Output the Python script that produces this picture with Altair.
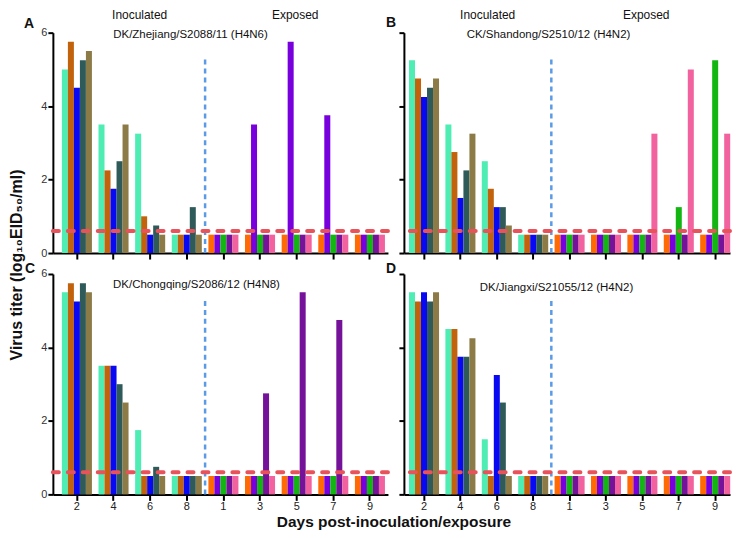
import altair as alt
import pandas as pd

# ---------------- data ----------------
days = ["2", "4", "6", "8", "1", "3", "5", "7", "9"]
inoculated_days = ["2", "4", "6", "8"]
exposed_days = ["1", "3", "5", "7", "9"]
inoculated_colors = ["#4DEDB3", "#C2620C", "#0808F2", "#2E5A5A", "#8C7B46"]
exposed_colors = ["#FF6A05", "#7800DC", "#12B512", "#74129A", "#F2629E"]

detection_limit = [0.6]
divider_top = [5.3]

a_inoculated = [[5.0, 5.75, 4.5, 5.25, 5.5],
                [3.5, 2.25, 1.75, 2.5, 3.5],
                [3.25, 1.0, 0.5, 0.75, 0.5],
                [0.5, 0.5, 0.5, 1.25, 0.5]]
a_exposed = [[0.5, 0.5, 0.5, 0.5, 0.5],
             [0.5, 3.5, 0.5, 0.5, 0.5],
             [0.5, 5.75, 0.5, 0.5, 0.5],
             [0.5, 3.75, 0.5, 0.5, 0.5],
             [0.5, 0.5, 0.5, 0.5, 0.5]]

b_inoculated = [[5.25, 4.75, 4.25, 4.5, 4.75],
                [3.5, 2.75, 1.5, 2.25, 3.25],
                [2.5, 1.75, 1.25, 1.25, 0.75],
                [0.5, 0.5, 0.5, 0.5, 0.5]]
b_exposed = [[0.5, 0.5, 0.5, 0.5, 0.5],
             [0.5, 0.5, 0.5, 0.5, 0.5],
             [0.5, 0.5, 0.5, 0.5, 3.25],
             [0.5, 0.5, 1.25, 0.5, 5.0],
             [0.5, 0.5, 5.25, 0.5, 3.25]]

c_inoculated = [[5.5, 5.75, 5.25, 5.75, 5.5],
                [3.5, 3.5, 3.5, 3.0, 2.5],
                [1.75, 0.5, 0.5, 0.75, 0.5],
                [0.5, 0.5, 0.5, 0.5, 0.5]]
c_exposed = [[0.5, 0.5, 0.5, 0.5, 0.5],
             [0.5, 0.5, 0.5, 2.75, 0.5],
             [0.5, 0.5, 0.5, 5.5, 0.5],
             [0.5, 0.5, 0.5, 4.75, 0.5],
             [0.5, 0.5, 0.5, 0.5, 0.5]]

d_inoculated = [[5.5, 5.25, 5.5, 5.25, 5.5],
                [4.5, 4.5, 3.75, 3.75, 4.25],
                [1.5, 0.5, 3.25, 2.5, 0.5],
                [0.5, 0.5, 0.5, 0.5, 0.5]]
d_exposed = [[0.5, 0.5, 0.5, 0.5, 0.5],
             [0.5, 0.5, 0.5, 0.5, 0.5],
             [0.5, 0.5, 0.5, 0.5, 0.5],
             [0.5, 0.5, 0.5, 0.5, 0.5],
             [0.5, 0.5, 0.5, 0.5, 0.5]]

subtitles = ["DK/Zhejiang/S2088/11 (H4N6)", "CK/Shandong/S2510/12 (H4N2)",
             "DK/Chongqing/S2086/12 (H4N8)", "DK/Jiangxi/S21055/12  (H4N2)"]
letters = ["A", "B", "C", "D"]
group_labels = ["Inoculated", "Exposed"]
x_title = "Days post-inoculation/exposure"
y_title = "Virus titer (log\u2081\u2080EID\u2085\u2080/ml)"

FONT = "Liberation Sans"


def make_df(inoc, expo):
    rows = []
    for d, vals in zip(inoculated_days, inoc):
        for i, v in enumerate(vals):
            rows.append({"day": d, "bird": i, "titer": v, "color": inoculated_colors[i]})
    for d, vals in zip(exposed_days, expo):
        for i, v in enumerate(vals):
            rows.append({"day": d, "bird": i, "titer": v, "color": exposed_colors[i]})
    return pd.DataFrame(rows)


def text_layer(txt, x, y, size=11.5, weight="normal", angle=0):
    return alt.Chart(pd.DataFrame({"t": [txt]})).mark_text(
        font=FONT, fontSize=size, fontWeight=weight, color="#111",
        baseline="middle", align="center", angle=angle
    ).encode(text="t:N", x=alt.value(x), y=alt.value(y))


def panel(df, width, pad_outer, align, show_x_labels, show_y_labels, x_label_pad, texts):
    xscale = alt.Scale(domain=days, paddingInner=0.18, paddingOuter=pad_outer, align=align)
    xaxis = alt.Axis(title=None, labels=show_x_labels, labelAngle=0, grid=False,
                     domainColor="black", domainWidth=2, tickColor="black", tickWidth=2,
                     tickSize=6, labelPadding=x_label_pad, labelFont=FONT, labelFontSize=11,
                     labelColor="#222")
    yaxis = alt.Axis(title=None, values=[0, 2, 4, 6], labels=show_y_labels, grid=False,
                     domainColor="black", domainWidth=2, tickColor="black", tickWidth=2,
                     tickSize=5, labelPadding=1, labelFont=FONT, labelFontSize=11,
                     labelColor="#333")
    bars = alt.Chart(df).mark_bar().encode(
        x=alt.X("day:N", scale=xscale, axis=xaxis),
        xOffset=alt.XOffset("bird:O", scale=alt.Scale(paddingInner=0, paddingOuter=0)),
        y=alt.Y("titer:Q", scale=alt.Scale(domain=[0, 6], nice=False), axis=yaxis),
        color=alt.Color("color:N", scale=None),
    )
    vrule = alt.Chart(pd.DataFrame({"day": ["8"], "lo": [0], "hi": divider_top})).mark_rule(
        color="#5B9BE6", strokeWidth=2.5, strokeDash=[5, 4], xOffset=3.3
    ).encode(x=alt.X("day:N", bandPosition=1), y="lo:Q", y2="hi:Q")
    hrule = alt.Chart(pd.DataFrame({"limit": detection_limit})).mark_rule(
        color="#E8525A", strokeWidth=4, strokeDash=[6, 9], strokeCap="round"
    ).encode(y="limit:Q")
    return alt.layer(bars, vrule, hrule, *texts).properties(width=width, height=221)


pA = panel(make_df(a_inoculated, a_exposed), 336, 0.164, 0.75, False, True, 0, [
    text_layer(letters[0], -24, -9, 14, "bold"),
    text_layer(group_labels[0], 87, -18, 12),
    text_layer(group_labels[1], 243, -18, 12),
    text_layer(subtitles[0], 138, 2),
])
pB = panel(make_df(b_inoculated, b_exposed), 327, 0.07, 1, False, False, 0, [
    text_layer(letters[1], -13, -10, 14, "bold"),
    text_layer(group_labels[0], 84, -18, 12),
    text_layer(group_labels[1], 243, -18, 12),
    text_layer(subtitles[1], 145, 2),
])
pC = panel(make_df(c_inoculated, c_exposed), 336, 0.164, 0.75, True, True, 0, [
    text_layer(letters[2], -23, -5, 14, "bold"),
    text_layer(subtitles[2], 144, 11),
    text_layer(y_title, -36, -9, 16, "bold", 270),
    text_layer(x_title, 342, 249, 15.5, "bold"),
])
pD = panel(make_df(d_inoculated, d_exposed), 327, 0.07, 1, True, False, 0, [
    text_layer(letters[3], -13, -5, 14, "bold"),
    text_layer(subtitles[3], 153, 14),
])

chart = alt.concat(pA, pB, pC, pD, columns=2, spacing={"row": 21, "column": 16},
                   bounds="flush").properties(padding=0).configure_view(stroke=None)

chart.save("out.html", embed_options={"renderer": "svg", "actions": False})
